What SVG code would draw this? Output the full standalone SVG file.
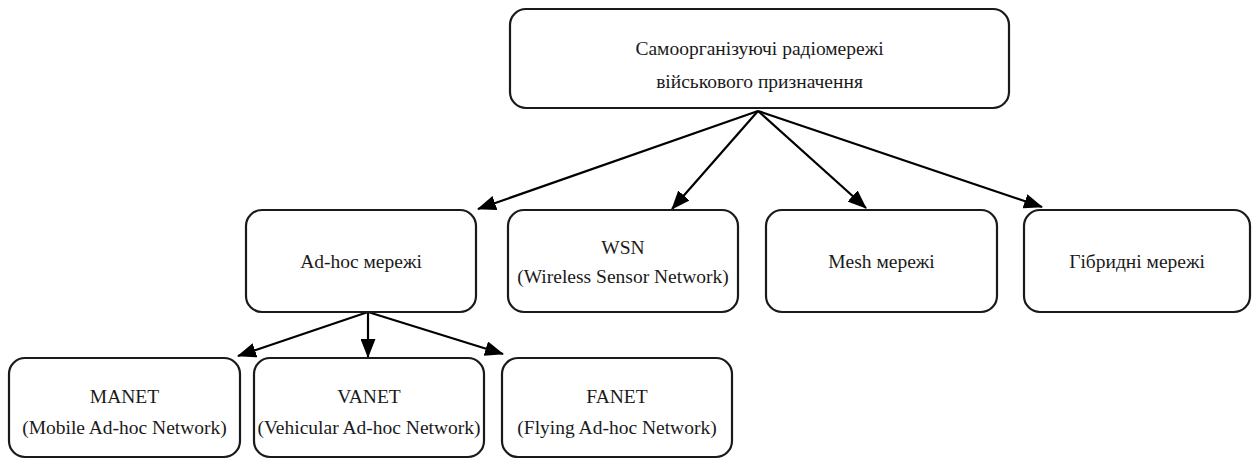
<svg xmlns="http://www.w3.org/2000/svg" width="1254" height="459" viewBox="0 0 1254 459">
<style>
  .box { fill: #ffffff; stroke: #1a1a1a; stroke-width: 2.2; }
  .t { font-family: 'Liberation Serif', 'DejaVu Serif', 'Noto Serif', serif; font-size: 19.5px; fill: #1a1a1a; text-anchor: middle; }
  .c { stroke: #000000; stroke-width: 2.2; fill: none; marker-end: url(#ah); }
</style>
<defs>
  <marker id="ah" viewBox="0 0 19 15" refX="18" refY="7.5" markerWidth="19" markerHeight="15" markerUnits="userSpaceOnUse" orient="auto">
    <path d="M0,0 L19,7.5 L0,15 z" fill="#000000"/>
  </marker>
</defs>
<rect width="1254" height="459" fill="#ffffff"/>

<g id="connectors">
  <path class="c" d="M758,111 L478,209"/>
  <path class="c" d="M758,111 L672,209"/>
  <path class="c" d="M758,111 L866,208"/>
  <path class="c" d="M758,111 L1042,207"/>
  <path class="c" d="M368,312 L238,356"/>
  <path class="c" d="M368,312 L368,357"/>
  <path class="c" d="M368,312 L503,354"/>
</g>

<g id="root">
  <rect class="box" x="510" y="9" width="499" height="99" rx="16"/>
  <text class="t" x="759.5" y="55">Самоорганізуючі радіомережі</text>
  <text class="t" x="759.5" y="88">військового призначення</text>
</g>

<g id="adhoc">
  <rect class="box" x="246" y="210" width="230" height="102" rx="16"/>
  <text class="t" x="361" y="268">Ad-hoc мережі</text>
</g>

<g id="wsn">
  <rect class="box" x="508" y="210" width="230" height="102" rx="16"/>
  <text class="t" x="623" y="254">WSN</text>
  <text class="t" x="623" y="283">(Wireless Sensor Network)</text>
</g>

<g id="mesh">
  <rect class="box" x="766" y="210" width="231" height="102" rx="16"/>
  <text class="t" x="881.5" y="268">Mesh мережі</text>
</g>

<g id="hybrid">
  <rect class="box" x="1024" y="210" width="226" height="102" rx="16"/>
  <text class="t" x="1137" y="268">Гібридні мережі</text>
</g>

<g id="manet">
  <rect class="box" x="9" y="358" width="231" height="99" rx="16"/>
  <text class="t" x="124.5" y="403">MANET</text>
  <text class="t" x="124.5" y="434">(Mobile Ad-hoc Network)</text>
</g>

<g id="vanet">
  <rect class="box" x="254" y="358" width="230" height="99" rx="16"/>
  <text class="t" x="369" y="403">VANET</text>
  <text class="t" x="369" y="434">(Vehicular Ad-hoc Network)</text>
</g>

<g id="fanet">
  <rect class="box" x="502" y="358" width="230" height="99" rx="16"/>
  <text class="t" x="617" y="403">FANET</text>
  <text class="t" x="617" y="434">(Flying Ad-hoc Network)</text>
</g>
</svg>
